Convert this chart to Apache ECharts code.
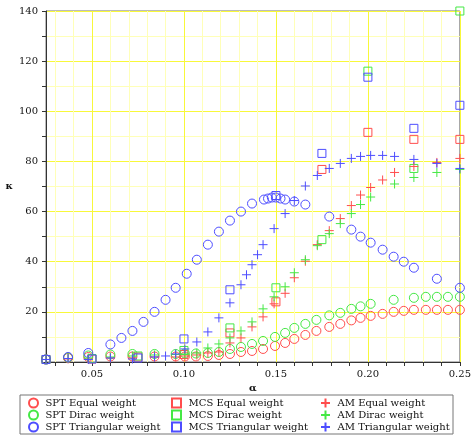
<!DOCTYPE html>
<html>
<head>
<meta charset="utf-8">
<script src="https://cdn.jsdelivr.net/npm/echarts@6/dist/echarts.min.js"></script>
<style>
html,body{margin:0;padding:0;background:#fff;}
#chart{width:474px;height:437px;}
</style>
</head>
<body>
<div id="chart"></div>
<script>
// ---- data ----
const sptAlpha = [0.025,0.037,0.048,0.06,0.072,0.084,0.0955,0.1005,0.1065,0.113,0.119,0.125,0.131,0.137,0.143,0.1495,0.155,0.16,0.166,0.172,0.179,0.185,0.191,0.196,0.2015,0.208,0.214,0.2195,0.225,0.2315,0.2375,0.2435,0.25];
const sptEqual = [1,1.6,2,2.2,2.2,2.2,2.2,2.2,2.2,2.4,2.8,3.2,4,4.4,5.2,6.4,7.6,9.2,10.8,12.4,14,15.2,16.6,17.6,18.4,19.2,20,20.4,20.8,20.8,20.8,20.8,20.8];
const sptDirac = [1,1.8,2.6,3,3.2,3.2,3.2,3.4,3.4,3.6,4,5.2,6,7.2,8.4,10,11.6,13.6,15.2,16.8,18.6,19.6,21.2,22.2,23.2,null,24.8,null,25.6,26,26,26,26];
const sptTriAlpha = [0.025,0.037,0.048,0.06,0.066,0.072,0.078,0.084,0.09,0.0955,0.1015,0.107,0.113,0.119,0.125,0.131,0.137,0.1435,0.1457,0.1478,0.15,0.1525,0.155,0.16,0.166,0.179,0.191,0.196,0.2015,0.208,0.214,0.2195,0.225,0.2375,0.25];
const sptTri = [1,2,3.6,7,9.6,12.4,16,20,24.8,29.6,35.2,40.8,46.8,52,56.4,60,63.2,64.8,65.2,65.6,65.6,65.2,64.8,64,62.8,58,52.8,50,47.6,44.8,42,40,37.6,33.2,29.6];

const mcsAlpha = [0.025,0.05,0.075,0.1,0.125,0.15,0.175,0.2,0.225,0.25];
const mcsEqual = [1,1.2,2,3,11.6,24,76.8,91.6,88.8,88.8];
const mcsDirac = [1,1.4,2.4,4.6,13.6,29.6,48.8,116,77.2,140];
const mcsTri = [1,1.2,1.6,9.2,28.8,66.4,83.2,113.6,93.2,102.4];

const amAlpha = [0.025,0.037,0.048,0.06,0.072,0.084,0.09,0.0955,0.1005,0.107,0.113,0.119,0.125,0.131,0.134,0.137,0.14,0.143,0.149,0.155,0.16,0.166,0.1725,0.179,0.185,0.191,0.196,0.2015,0.208,0.2145,0.225,0.2375,0.25];
const amEqual = [1,1.2,1.2,1.6,1.6,2,null,2,2.4,2.8,3.6,4,7.6,9.6,null,14,null,18,23.2,27.4,33.6,40.2,46.8,52.4,57.2,62.4,66.6,69.6,72.6,75.6,78,79.6,81.2];
const amDirac = [1,1.4,1.6,2,2.4,2.8,null,3,3.2,3.6,5.6,7.2,9.6,12.4,null,16,null,21.2,26,30,35.6,40.8,46.4,51.2,55.2,59.2,62.8,65.8,null,71,73.6,75.6,76.8];
const amTri = [1,1.4,1,1.6,1.2,2,2.4,3.2,5.2,8,12,17.6,23.6,30.8,34.8,38.8,42.8,46.8,53.2,59.2,64.4,70.2,74.4,77.2,79.2,81.2,82,82.4,82.4,82,80.8,79.2,77.2];

const xTickValues = [0.03,0.04,0.05,0.06,0.07,0.08,0.09,0.10,0.11,0.12,0.13,0.14,0.15,0.16,0.17,0.18,0.19,0.20,0.21,0.22,0.23,0.24,0.25];
const xLabelValues = [0.05,0.10,0.15,0.20,0.25];

const names = {
  sptE:'SPT Equal weight', sptD:'SPT Dirac weight', sptT:'SPT Triangular weight',
  mcsE:'MCS Equal weight', mcsD:'MCS Dirac weight', mcsT:'MCS Triangular weight',
  amE:'AM Equal weight', amD:'AM Dirac weight', amT:'AM Triangular weight'
};
// ---- styling ----
const RED = '#ff4d4d', GREEN = '#44e844', BLUE = '#4d4dff';
const PLUS = 'path://M5,0L5,10M0,5L10,5';
const SQUARE = 'path://M0,0L10,0L10,10L0,10Z';
const FONT = 'DejaVu Serif';
const MAJOR = '#f8f83a', MINOR = '#ffffb8';

function pairs(xs, ys){
  return xs.map((x,i)=> ys[i]==null ? null : [x, ys[i]]).filter(p=>p);
}
function mk(name, xs, ys, color, symbol, size){
  return {
    name, type:'scatter', data: pairs(xs, ys), symbol, symbolSize: size,
    clip:false, silent:true,
    itemStyle:{color:'transparent', borderColor:color, borderWidth:1, opacity:1},
    emphasis:{disabled:true}
  };
}

const series = [
  mk(names.sptE, sptAlpha, sptEqual, RED, 'circle', 9),
  mk(names.sptD, sptAlpha, sptDirac, GREEN, 'circle', 9),
  mk(names.sptT, sptTriAlpha, sptTri, BLUE, 'circle', 9),
  mk(names.mcsE, mcsAlpha, mcsEqual, RED, SQUARE, 8),
  mk(names.mcsD, mcsAlpha, mcsDirac, GREEN, SQUARE, 8),
  mk(names.mcsT, mcsAlpha, mcsTri, BLUE, SQUARE, 8),
  mk(names.amE, amAlpha, amEqual, RED, PLUS, 9),
  mk(names.amD, amAlpha, amDirac, GREEN, PLUS, 9),
  mk(names.amT, amAlpha, amTri, BLUE, PLUS, 9)
];

const legendBase = {
  orient:'vertical', padding:0, itemGap:0, itemWidth:14, itemHeight:9,
  top:397, selectedMode:false, symbolKeepAspect:true,
  textStyle:{fontFamily:FONT, fontSize:10, color:'#111', lineHeight:12}
};

const chart = echarts.init(document.getElementById('chart'), null, {renderer:'canvas'});
chart.setOption({
  animation:false,
  backgroundColor:'#fff',
  grid:{left:46, right:12, top:11, bottom:75, show:true, borderColor:'#777', borderWidth:1, backgroundColor:'transparent'},
  xAxis:{
    type:'value', min:0.025, max:0.25,
    name:'α', nameLocation:'middle', nameGap:20,
    nameTextStyle:{fontFamily:FONT, fontSize:10, color:'#111', fontWeight:'bold'},
    axisLine:{show:true, onZero:false, lineStyle:{color:'#333', width:1}},
    axisTick:{show:true, length:4, customValues:xTickValues, lineStyle:{color:'#333'}},
    axisLabel:{customValues:xLabelValues, fontFamily:FONT, fontSize:10, color:'#111', margin:7,
      formatter:v=>v.toFixed(2)},
    splitLine:{show:true, lineStyle:{color:[MINOR,MINOR,MAJOR,MINOR,MINOR], width:1}},
    minorSplitLine:{show:false}
  },
  yAxis:{
    type:'value', min:0, max:140, interval:10,
    name:'κ', nameLocation:'middle', nameGap:32, nameRotate:0,
    nameTextStyle:{fontFamily:FONT, fontSize:10, color:'#111', fontWeight:'bold'},
    axisLine:{show:true, onZero:false, lineStyle:{color:'#333', width:1}},
    axisTick:{show:true, length:4, lineStyle:{color:'#333'}},
    axisLabel:{fontFamily:FONT, fontSize:10, color:'#111', margin:8,
      formatter:v=> (v>0 && v%20===0) ? String(v) : ''},
    splitLine:{show:true, lineStyle:{color:[MAJOR,MINOR], width:1}}
  },
  legend:[
    Object.assign({}, legendBase, {left:28, data:[names.sptE, names.sptD, names.sptT]}),
    Object.assign({}, legendBase, {left:171, data:[names.mcsE, names.mcsD, names.mcsT]}),
    Object.assign({}, legendBase, {left:320, data:[names.amE, names.amD, names.amT]})
  ],
  graphic:[{type:'rect', shape:{x:20, y:395, width:433, height:39}, style:{fill:'none', stroke:'#777', lineWidth:1}, silent:true}],
  series
});
</script>
</body>
</html>
